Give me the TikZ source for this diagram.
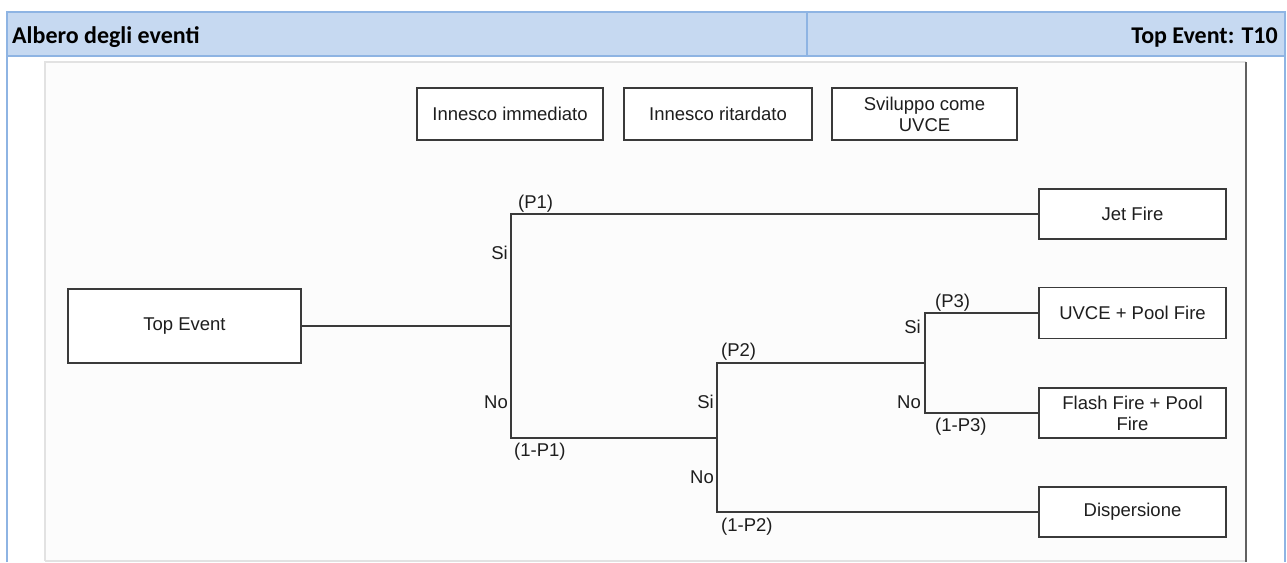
\documentclass[tikz,border=0pt]{standalone}
\usepackage{fontspec}
\setmainfont{Liberation Sans}
\newfontfamily\hdrfont{Carlito}
\definecolor{hdrfill}{HTML}{C6D9F1}
\definecolor{hdrline}{HTML}{8EB4E3}
\definecolor{boxgray}{HTML}{3A3A3A}
\definecolor{txtgray}{HTML}{1E1E1E}
\definecolor{imgfill}{HTML}{FCFCFC}
\definecolor{imgedge}{HTML}{E2E2E2}
\begin{document}
\begin{tikzpicture}[x=1pt,y=-1pt,
  evbox/.style={draw=boxgray, line width=1.8pt, fill=white, inner sep=0pt,
    font=\fontsize{18.5}{21}\selectfont, text=txtgray, align=center},
  tree/.style={draw=boxgray, line width=1.8pt},
  lbl/.style={font=\fontsize{18.5}{21}\selectfont, text=txtgray, inner sep=0pt},
  hdrtxt/.style={font=\hdrfont\bfseries\fontsize{24}{27}\selectfont, text=black, inner sep=0pt}]
\useasboundingbox (0,0) rectangle (1287,562);
% header
\fill[hdrfill] (7,12) rectangle (1285,56);
\draw[hdrline, line width=2pt] (7,562) -- (7,12) -- (1285,12) -- (1285,562);
\draw[hdrline, line width=2pt] (7,56) -- (1285,56);
\draw[hdrline, line width=2pt] (807,12) -- (807,56);
\node[hdrtxt, anchor=base west] (title) at (12,43) {Albero degli eventi};
\node[hdrtxt, anchor=base east] (topev) at (1278,43) {Top Event: T10};
% inner picture
\fill[imgfill] (45,62) rectangle (1246,561);
\draw[imgedge, line width=1.5pt] (45,561) -- (45,62) -- (1246,62);
\draw[imgedge, line width=1.5pt] (45,561) -- (1246,561);
\draw[boxgray!80, line width=2pt] (1246,62) -- (1246,562);
% column headers
\node[evbox, minimum width=186pt, minimum height=52pt] (c1) at (510,114) {Innesco immediato};
\node[evbox, minimum width=188pt, minimum height=52pt] (c2) at (718,114) {Innesco ritardato};
\node[evbox, minimum width=185pt, minimum height=52pt] (c3) at (924.5,114) {Sviluppo come\\UVCE};
% event boxes
\node[evbox, minimum width=233pt, minimum height=74pt] (top) at (184.5,326) {Top Event};
\node[evbox, minimum width=187pt, minimum height=50pt] (jet) at (1132.5,214) {Jet Fire};
\node[evbox, minimum width=187pt, minimum height=51pt] (uvce) at (1132.5,313) {UVCE + Pool Fire};
\node[evbox, minimum width=187pt, minimum height=50pt] (flash) at (1132.5,413) {Flash Fire + Pool\\Fire};
\node[evbox, minimum width=187pt, minimum height=50pt] (disp) at (1132.5,512) {Dispersione};
% branch points
\coordinate (b1) at (511,326);
\coordinate (b1t) at (511,214);
\coordinate (b1b) at (511,438);
\coordinate (b2) at (717,438);
\coordinate (b2t) at (717,363);
\coordinate (b2b) at (717,512);
\coordinate (b3) at (925,363);
\coordinate (b3t) at (925,313);
\coordinate (b3b) at (925,413);
% connectors
\draw[tree] (top.east) -- (b1);
\draw[tree] (jet.west) -- (b1t) -- (b1b) -- (b2);
\draw[tree] (disp.west) -- (b2b) -- (b2t) -- (b3);
\draw[tree] (uvce.west) -- (b3t) -- (b3b) -- (flash.west);
% labels
\node[lbl, anchor=south west] (p1) at (518,213) {(P1)};
\node[lbl, anchor=east] (si1) at (508,253) {Si};
\node[lbl, anchor=east] (no1) at (508,402) {No};
\node[lbl, anchor=west] (np1) at (514,452) {(1-P1)};
\node[lbl, anchor=west] (p2) at (721,352) {(P2)};
\node[lbl, anchor=east] (si2) at (714,402) {Si};
\node[lbl, anchor=east] (no2) at (714,477) {No};
\node[lbl, anchor=west] (np2) at (721,527) {(1-P2)};
\node[lbl, anchor=west] (p3) at (935,303) {(P3)};
\node[lbl, anchor=east] (si3) at (921,327) {Si};
\node[lbl, anchor=east] (no3) at (921,402) {No};
\node[lbl, anchor=west] (np3) at (935,427) {(1-P3)};
\end{tikzpicture}
\end{document}
